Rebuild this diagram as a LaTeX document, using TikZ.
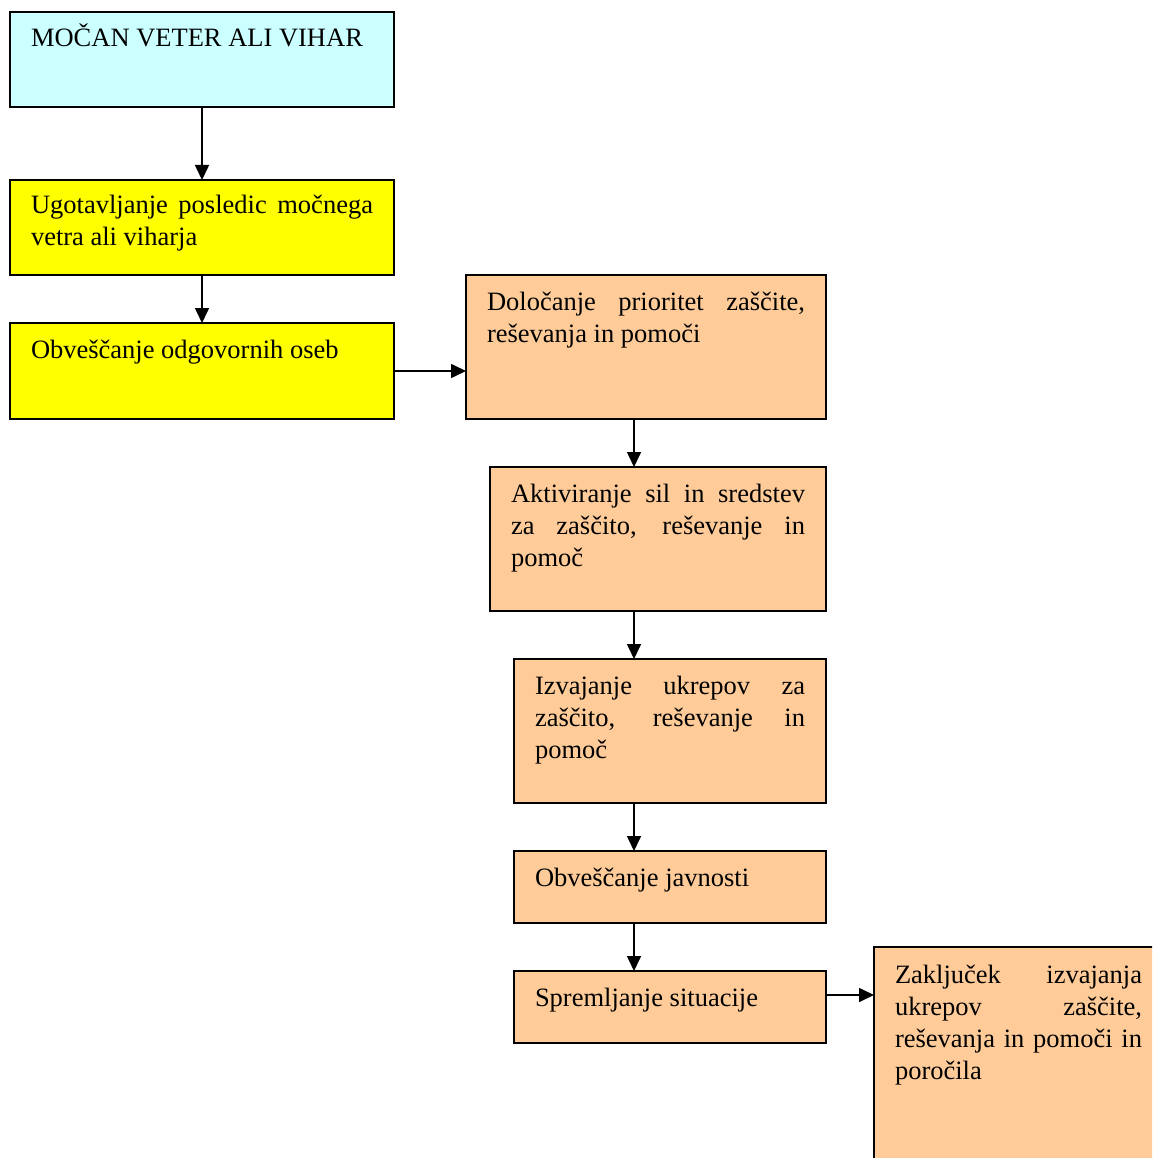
\documentclass[tikz,border=0pt]{standalone}
\usepackage{fontspec}
\setmainfont{Liberation Serif}
\usetikzlibrary{arrows.meta}
\definecolor{cyanbg}{HTML}{CCFFFF}
\definecolor{yellowbg}{HTML}{FFFF00}
\definecolor{orangebg}{HTML}{FFCC99}
\newcommand{\nsp}{\spaceskip=0pt\xspaceskip=0pt\relax}
\newcommand{\jline}[1]{\makebox[\hsize][s]{\nsp #1}\\}
\begin{document}
\begin{tikzpicture}[x=1pt,y=-1pt,
  box/.style={draw=black, line width=1.6pt, rectangle, inner sep=0pt, outer sep=0pt, anchor=north west},
  txt/.style={anchor=base west, inner sep=0pt, outer sep=0pt, align=left, font=\fontsize{26.5}{32}\selectfont},
  arr/.style={line width=1.6pt, -{Triangle[length=15pt,width=14pt]}}]
\useasboundingbox (0,0) rectangle (1152,1158);
\begin{scope}
\clip (0,0) rectangle (1152,1158);
\node[box, fill=cyanbg, minimum width=384pt, minimum height=95pt] (b1) at (10,12) {};
\node[box, fill=yellowbg, minimum width=384pt, minimum height=95pt] (b2) at (10,180) {};
\node[box, fill=yellowbg, minimum width=384pt, minimum height=96pt] (b3) at (10,323) {};
\node[box, fill=orangebg, minimum width=360pt, minimum height=144pt] (b4) at (466,275) {};
\node[box, fill=orangebg, minimum width=336pt, minimum height=144pt] (b5) at (490,467) {};
\node[box, fill=orangebg, minimum width=312pt, minimum height=144pt] (b6) at (514,659) {};
\node[box, fill=orangebg, minimum width=312pt, minimum height=72pt] (b7) at (514,851) {};
\node[box, fill=orangebg, minimum width=312pt, minimum height=72pt] (b8) at (514,971) {};
\node[box, fill=orangebg, minimum width=320pt, minimum height=260pt] (b9) at (874,947) {};
\end{scope}

\node[txt, text width=342pt] (t1) at ([xshift=21pt,yshift=-35pt]b1.north west) {\nsp MOČAN VETER ALI VIHAR};
\node[txt, text width=342pt] (t2) at ([xshift=21pt,yshift=-34pt]b2.north west) {\jline{Ugotavljanje posledic močnega}\nsp vetra ali viharja};
\node[txt, text width=342pt] (t3) at ([xshift=21pt,yshift=-35pt]b3.north west) {\nsp Obveščanje odgovornih oseb};
\node[txt, text width=318pt] (t4) at ([xshift=21pt,yshift=-35pt]b4.north west) {\jline{Določanje prioritet zaščite,}\nsp reševanja in pomoči};
\node[txt, text width=294pt] (t5) at ([xshift=21pt,yshift=-35pt]b5.north west) {\jline{Aktiviranje sil in sredstev}\jline{za zaščito, reševanje in}\nsp pomoč};
\node[txt, text width=270pt] (t6) at ([xshift=21pt,yshift=-35pt]b6.north west) {\jline{Izvajanje ukrepov za}\jline{zaščito, reševanje in}\nsp pomoč};
\node[txt, text width=270pt] (t7) at ([xshift=21pt,yshift=-35pt]b7.north west) {\nsp Obveščanje javnosti};
\node[txt, text width=270pt] (t8) at ([xshift=21pt,yshift=-35pt]b8.north west) {\nsp Spremljanje situacije};
\node[txt, text width=247pt] (t9) at ([xshift=21pt,yshift=-36pt]b9.north west) {\jline{Zaključek izvajanja}\jline{ukrepov zaščite,}\jline{reševanja in pomoči in}\nsp poročila};

\coordinate (ax) at (634,0);
\coordinate (ay) at (0,995);
\draw[arr] (b1.south) -- (b2.north);
\draw[arr] (b2.south) -- (b3.north);
\draw[arr] (b3.east) -- (b4.west |- b3.east);
\draw[arr] (b4.south -| ax) -- (b5.north -| ax);
\draw[arr] (b5.south -| ax) -- (b6.north -| ax);
\draw[arr] (b6.south -| ax) -- (b7.north -| ax);
\draw[arr] (b7.south -| ax) -- (b8.north -| ax);
\draw[arr] (b8.east |- ay) -- (b9.west |- ay);
\end{tikzpicture}
\end{document}
